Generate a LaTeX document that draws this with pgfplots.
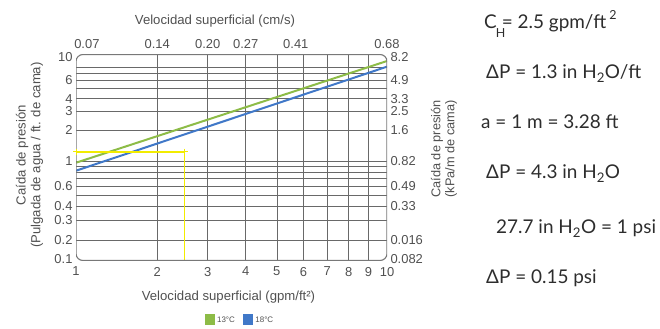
\documentclass[border=0pt]{standalone}
\usepackage{pgfplots}
\pgfplotsset{compat=1.18}
\usepackage{fontspec}
\setmainfont{Liberation Sans}
\newfontfamily\notefont{Lato}
\definecolor{txt}{RGB}{80,80,80}
\definecolor{gridc}{RGB}{105,105,105}
\definecolor{framec}{RGB}{120,120,120}
\definecolor{g13}{RGB}{141,188,71}
\definecolor{b18}{RGB}{64,120,200}
\definecolor{ylw}{RGB}{242,236,0}
\definecolor{notec}{RGB}{45,45,45}
\begin{document}
\begin{tikzpicture}[x=1bp,y=1bp]
\useasboundingbox (0,0) rectangle (660,328);
\begin{axis}[
  at={(76bp,67.5bp)}, anchor=south west,
  scale only axis, width=311bp, height=206bp,
  x coord trafo/.code={\pgfmathparse{0.79*ln(#1)/ln(10)+0.21*(#1-1)/9}},
  y coord trafo/.code={\pgfmathparse{ln(#1)/ln(10)}\edef\myL{\pgfmathresult}%
    \pgfmathparse{103.7*max(\myL,0)+113*min(\myL,0)-48.2*min(\myL+0.699,0)}},
  xmin=1, xmax=10, ymin=0.0965, ymax=10.64,
  axis line style={draw=none},
  major tick length=0pt, minor tick length=0pt,
  /pgf/number format/assume math mode=true,
  tick label style={font=\fontsize{13}{13}\selectfont, text=txt},
  xtick={1,2,3,4,5,6,7,8,9,10},
  xticklabels={1,2,3,4,5,6,7,8,9,10},
  xticklabel style={yshift=-3bp},
  ytick={0.1,0.2,0.3,0.4,0.6,1,2,3,4,6,10},
  yticklabels={0.1,0.2,0.3,0.4,0.6,1,2,3,4,6,10},
  minor xtick={2,3,4,5,6,7,8,9},
  minor ytick={0.2,0.3,0.4,0.5,0.6,0.7,0.8,0.9,1,2,3,4,5,6,7,8},
  xmajorgrids=false, ymajorgrids=false,
  xminorgrids=true, yminorgrids=true,
  minor grid style={gridc, line width=0.5bp},
  legend style={at={(0.527,-0.289)}, anchor=center, draw=none, fill=none,
    legend columns=2, font=\fontsize{8}{8}\selectfont, text=txt,
    /tikz/every even column/.append style={column sep=6bp}},
  legend image code/.code={\fill[#1] (0bp,-3.5bp) rectangle (8.5bp,5bp);},
]
\addplot[g13, line width=2bp] coordinates {(1,0.966) (10,9.21)};
\addlegendentry{13°C}
\addplot[b18, line width=2bp] coordinates {(1,0.821) (10,8.12)};
\addlegendentry{18°C}
\addplot[ylw, line width=1.6bp, forget plot, mark=+, mark size=3bp, mark options={line width=1bp}] coordinates {(1,1.23) (2.5,1.23) (2.5,0.0965)};
\draw[framec, line width=1.1bp, rounded corners=7bp] (rel axis cs:0,0) rectangle (rel axis cs:1,1);
\end{axis}
\begin{axis}[
  at={(76bp,67.5bp)}, anchor=south west,
  scale only axis, width=311bp, height=206bp,
  x coord trafo/.code={\pgfmathparse{0.79*ln(#1)/ln(10)+0.21*(#1-1)/9}},
  y coord trafo/.code={\pgfmathparse{ln(#1)/ln(10)}\edef\myL{\pgfmathresult}%
    \pgfmathparse{103.7*max(\myL,0)+113*min(\myL,0)-48.2*min(\myL+0.699,0)}},
  xmin=1, xmax=10, ymin=0.0965, ymax=10.64,
  axis line style={draw=none},
  major tick length=0pt, minor tick length=0pt,
  /pgf/number format/assume math mode=true,
  tick label style={font=\fontsize{13}{13}\selectfont, text=txt},
  axis x line*=top, axis y line*=right,
  xticklabel style={yshift=2bp},
  xtick={1.1,2,3,4,5.7,10},
  xticklabels={0.07,0.14,0.20,0.27,0.41,0.68},
  ytick={0.1,0.2,0.4,0.6,1,2,3,4,6,10},
  yticklabels={0.082,0.016,0.33,0.49,0.82,1.6,2.5,3.3,4.9,8.2},
]
\end{axis}
\begin{scope}[every node/.style={text=txt, font=\fontsize{13.2}{15}\selectfont}]
\node at (215,306.5) {Velocidad superficial (cm/s)};
\node at (228.5,31.3) {Velocidad superficial (gpm/ft²)};
\node[rotate=90, align=center] at (29.5,173) {Caída de presión\\(Pulgada de agua / ft. de cama)};
\node[rotate=90, align=center, font=\fontsize{12.8}{14}\selectfont] at (444,179) {Caída de presión\\(kPa/m de cama)};
\end{scope}
\begin{scope}[every node/.style={text=notec, anchor=base west, font=\notefont\fontsize{19}{22}\selectfont, inner sep=0pt}]
\node at (484,299.3) {C\kern-1bp\raisebox{-8.6bp}{\fontsize{12.5}{12}\selectfont H}\kern-3.5bp= 2.5 gpm/ft\,\raisebox{9.4bp}{\fontsize{12.5}{12}\selectfont 2}};
\node at (486,249.3) {ΔP = 1.3 in H\textsubscript{2}O/ft};
\node at (481,199.3) {a = 1 m = 3.28 ft};
\node at (486,149.3) {ΔP = 4.3 in H\textsubscript{2}O};
\node at (496,94.3) {27.7 in H\textsubscript{2}O = 1 psi};
\node at (486,44.3) {ΔP = 0.15 psi};
\end{scope}
\end{tikzpicture}
\end{document}
